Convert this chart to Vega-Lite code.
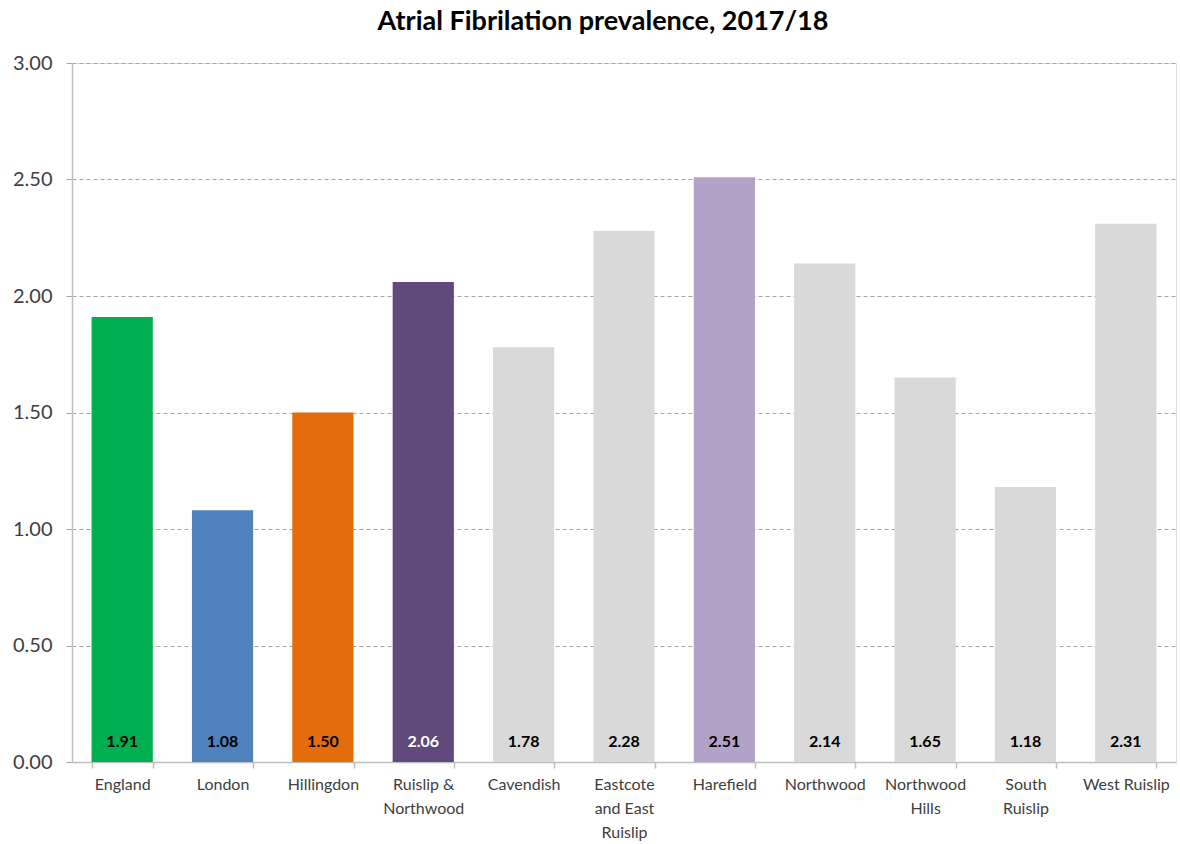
{
  "$schema": "https://vega.github.io/schema/vega-lite/v6.json",
  "width": 1104,
  "height": 699,
  "autosize": {"type": "none"},
  "padding": {"left": 72, "top": 63, "right": 4, "bottom": 82},
  "background": "white",
  "title": {
    "text": "Atrial Fibrilation prevalence, 2017/18",
    "font": "Lato",
    "fontSize": 27,
    "fontWeight": "bold",
    "color": "#000000",
    "anchor": "middle",
    "dx": -21,
    "offset": 17
  },
  "data": {
    "values": [
      {"area": "England", "value": 1.91, "group": "England"},
      {"area": "London", "value": 1.08, "group": "London"},
      {"area": "Hillingdon", "value": 1.50, "group": "Hillingdon"},
      {"area": "Ruislip & Northwood", "value": 2.06, "group": "Ruislip & Northwood"},
      {"area": "Cavendish", "value": 1.78, "group": "Ward"},
      {"area": "Eastcote and East Ruislip", "value": 2.28, "group": "Ward"},
      {"area": "Harefield", "value": 2.51, "group": "Harefield"},
      {"area": "Northwood", "value": 2.14, "group": "Ward"},
      {"area": "Northwood Hills", "value": 1.65, "group": "Ward"},
      {"area": "South Ruislip", "value": 1.18, "group": "Ward"},
      {"area": "West Ruislip", "value": 2.31, "group": "Ward"}
    ]
  },
  "encoding": {
    "x": {
      "field": "area",
      "type": "nominal",
      "sort": null,
      "scale": {"paddingInner": 0.39, "paddingOuter": 0.195},
      "axis": {
        "title": null,
        "labelAngle": 0,
        "labelFont": "Lato",
        "labelFontSize": 16,
        "labelColor": "#404040",
        "labelPadding": 8,
        "labelLineHeight": 24,
        "labelBaseline": "top",
        "labelExpr": "datum.value == 'Ruislip & Northwood' ? ['Ruislip &', 'Northwood'] : datum.value == 'Eastcote and East Ruislip' ? ['Eastcote', 'and East', 'Ruislip'] : datum.value == 'Northwood Hills' ? ['Northwood', 'Hills'] : datum.value == 'South Ruislip' ? ['South', 'Ruislip'] : datum.value",
        "domainColor": "#BFBFBF",
        "domainWidth": 1.5,
        "tickColor": "#BFBFBF",
        "tickWidth": 1.5,
        "tickSize": 6,
        "tickBand": "extent",
        "grid": false
      }
    }
  },
  "layer": [
    {
      "mark": {"type": "bar"},
      "encoding": {
        "y": {
          "field": "value",
          "type": "quantitative",
          "scale": {"domain": [0, 3]},
          "axis": {
            "title": null,
            "values": [0, 0.5, 1, 1.5, 2, 2.5, 3],
            "format": ".2f",
            "labelFont": "Lato",
            "labelFontSize": 20,
            "labelColor": "#404040",
            "labelPadding": 14,
            "tickSize": 6,
            "tickColor": "#A6A6A6",
            "domainColor": "#BFBFBF",
            "domainWidth": 1.5,
            "grid": true,
            "gridColor": "#A6A6A6",
            "gridDash": [4, 3],
            "gridWidth": 1
          }
        },
        "color": {
          "field": "group",
          "type": "nominal",
          "legend": null,
          "scale": {
            "domain": ["England", "London", "Hillingdon", "Ruislip & Northwood", "Harefield", "Ward"],
            "range": ["#00AF50", "#4F81BD", "#E46C0A", "#604A7B", "#B3A2C7", "#D9D9D9"]
          }
        }
      }
    },
    {
      "mark": {"type": "text", "font": "Lato", "fontSize": 16, "fontWeight": "bold", "baseline": "middle", "dy": -20},
      "encoding": {
        "y": {"datum": 0, "type": "quantitative"},
        "text": {"field": "value", "type": "quantitative", "format": ".2f"},
        "color": {
          "condition": {"test": "datum.area == 'Ruislip & Northwood'", "value": "#FFFFFF"},
          "value": "#000000"
        }
      }
    }
  ]
}
